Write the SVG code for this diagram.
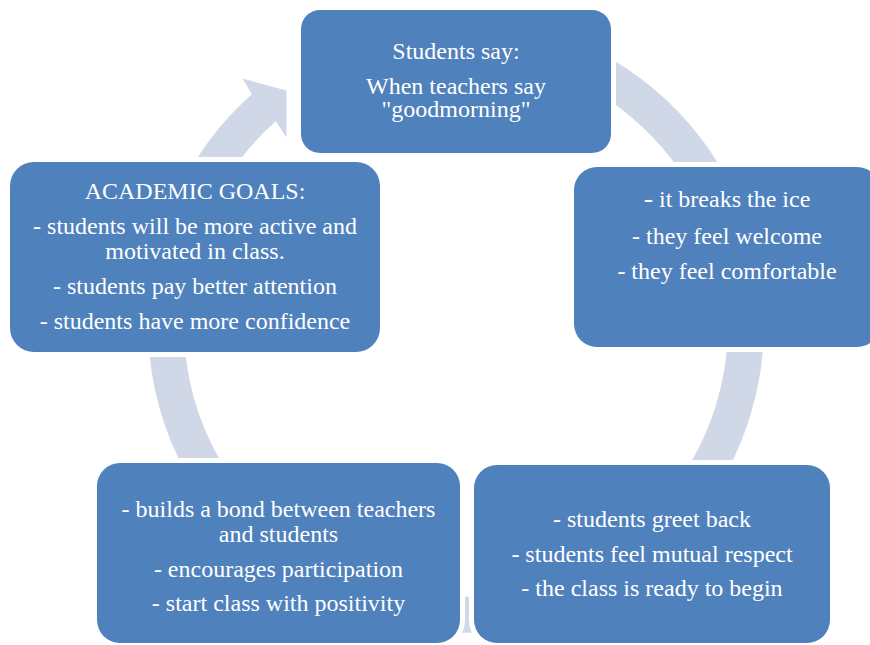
<svg xmlns="http://www.w3.org/2000/svg" width="870" height="645" viewBox="0 0 870 645">
<style>
.arc{fill:#D0D8E8;stroke:none}
.box{fill:#4F81BD;stroke:#FFFFFF;stroke-width:10;paint-order:stroke fill}
.t{font-family:"Liberation Serif","Times New Roman",serif;font-size:24px;fill:#FFFFFF;text-anchor:middle}
</style>
<rect x="0" y="0" width="870" height="645" fill="#FFFFFF"/>
<g id="connectors">
<path class="arc" d="M535.7,27.5 A308,308 0 0 1 735.1,194.8 L751.5,187.2 L738.6,259.8 L684.4,218.5 L702.5,210.0 A272,272 0 0 0 526.4,62.3 Z"/>
<path class="arc" d="M762.8,298.2 A308,308 0 0 1 691.9,523.0 L705.7,534.6 L634.5,553.5 L649.0,487.0 L664.4,499.8 A272,272 0 0 0 727.0,301.3 Z"/>
<path class="arc" d="M610,591.7 A308,308 0 0 1 340.6,610.6 L333.9,627.3 L293.8,565.4 L361.6,558.7 L354.1,577.2 A272,272 0 0 0 592,560.6 Z"/>
<path class="arc" d="M258.0,560.9 A308,308 0 0 1 149.2,298.2 L131.2,296.6 L178.7,240.2 L205.0,303.0 L185.0,301.3 A272,272 0 0 0 281.2,533.4 Z"/>
<path class="arc" d="M189.3,171 A308,308 0 0 1 251.9,94.3 L242.5,78.5 L286.5,90.5 L286.5,137.5 L275.8,121.3 A272,272 0 0 0 220.4,189 Z"/>
</g>
<g id="node-top">
<rect class="box" x="301" y="10" width="310" height="143" rx="19" ry="19"/>
<text class="t" x="456" y="58.5">Students say:</text>
<text class="t" x="456" y="93.5">When teachers say</text>
<text class="t" x="456" y="117">"goodmorning"</text>
</g>
<g id="node-right">
<rect class="box" x="574" y="167" width="306" height="180" rx="23" ry="23"/>
<text class="t" x="727" y="207"><tspan font-size="28">-</tspan> it breaks the ice</text>
<text class="t" x="727" y="243.5">- they feel welcome</text>
<text class="t" x="727" y="278.5">- they feel comfortable</text>
</g>
<g id="node-bottom-right">
<rect class="box" x="474" y="465" width="356" height="178" rx="23" ry="23"/>
<text class="t" x="652" y="527">- students greet back</text>
<text class="t" x="652" y="561.5">- students feel mutual respect</text>
<text class="t" x="652" y="596">- the class is ready to begin</text>
</g>
<g id="node-bottom-left">
<rect class="box" x="97" y="463" width="363" height="180" rx="23" ry="23"/>
<text class="t" x="278.5" y="517">- builds a bond between teachers</text>
<text class="t" x="278.5" y="542">and students</text>
<text class="t" x="278.5" y="577">- encourages participation</text>
<text class="t" x="278.5" y="611">- start class with positivity</text>
</g>
<g id="node-left">
<rect class="box" x="10" y="162" width="370" height="190" rx="24" ry="24"/>
<text class="t" x="195" y="199">ACADEMIC GOALS:</text>
<text class="t" x="195" y="234">- students will be more active and</text>
<text class="t" x="195" y="259">motivated in class.</text>
<text class="t" x="195" y="293.5">- students pay better attention</text>
<text class="t" x="195" y="328.5">- students have more confidence</text>
</g>
</svg>
